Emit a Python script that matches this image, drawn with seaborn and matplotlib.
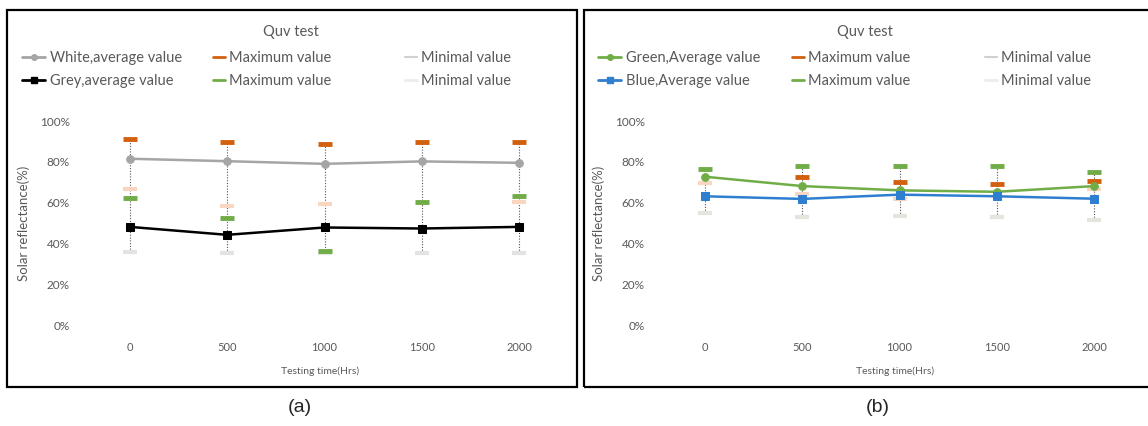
import numpy as np
import pandas as pd
import seaborn as sns
import matplotlib.pyplot as plt
from matplotlib.lines import Line2D
from matplotlib.patches import Rectangle

# data
hours = [0, 500, 1000, 1500, 2000]

# (a) white / grey
white_avg = [81.5, 80.3, 79.0, 80.2, 79.5]
grey_avg = [48.1, 44.2, 47.8, 47.3, 48.1]
white_max = [91.2, 89.6, 88.5, 89.6, 89.6]
grey_max = [62.2, 52.6, 36.4, 60.3, 63.2]
white_min = [66.8, 58.3, 59.2, np.nan, 60.3]
grey_min = [35.9, 35.5, 35.5, 35.5, 35.5]

# (b) green / blue
green_avg = [72.7, 68.1, 66.0, 65.3, 68.1]
blue_avg = [63.1, 61.8, 63.9, 63.1, 61.9]
orange_max_b = [np.nan, 72.5, 69.9, 68.9, 70.6]
green_max_b = [76.4, 78.0, 77.9, 78.0, 74.9]
salmon_min_b = [69.8, 64.3, 61.6, np.nan, 66.5]
gray_min_b = [55.1, 53.1, 53.4, 53.1, 51.5]

ORANGE = '#d2600f'
GREEN = '#70ad47'
SALMON = '#f8d6c0'
LGRAY = '#e3e3e3'
TXT = '#595959'

sns.set_style('white')
plt.rcParams['font.family'] = ['Lato', 'DejaVu Sans']

fig = plt.figure(figsize=(11.48, 4.26), dpi=100)
W, H = 1148, 426


def fx(px):
    return px / W


def fy(py):
    return 1 - py / H


def dash(ax, y, color, mew=3.5):
    df = pd.DataFrame({'h': hours, 'v': y}).dropna()
    sns.lineplot(data=df, x='h', y='v', ax=ax, color=color, linestyle='',
                 marker='_', markersize=10, markeredgewidth=mew,
                 markeredgecolor=color, zorder=4)


def panel(left, avg1, avg2, c1, c2, m1, m2, mx1, mx2, mn1, mn2, mn1c, mn2c):
    ax = fig.add_axes([fx(left), fy(325), fx(487), (325 - 121) / H])
    allv = np.array([mx1, mx2, mn1, mn2], dtype=float)
    ax.vlines(hours, np.nanmin(allv, axis=0), np.nanmax(allv, axis=0),
              colors='#555555', linestyles=(0, (1, 1.5)), linewidth=0.8,
              zorder=1)
    dash(ax, mn1, mn1c, 3)
    dash(ax, mn2, mn2c, 3)
    dash(ax, mx1, ORANGE)
    dash(ax, mx2, GREEN)
    sns.lineplot(x=hours, y=avg1, ax=ax, color=c1, marker=m1, markersize=5.5,
                 markeredgecolor=c1, linewidth=1.8, zorder=5)
    sns.lineplot(x=hours, y=avg2, ax=ax, color=c2, marker=m2, markersize=6,
                 markeredgecolor=c2, linewidth=1.8, zorder=5)
    ax.set_xlim(-250, 2250)
    ax.set_ylim(0, 100)
    ax.set_xticks(hours)
    ax.set_xticklabels([str(h) for h in hours])
    ax.set_yticks([0, 20, 40, 60, 80, 100])
    ax.set_yticklabels(['0%', '20%', '40%', '60%', '80%', '100%'])
    ax.tick_params(axis='both', length=0, colors=TXT, labelsize=8.5)
    ax.tick_params(axis='x', pad=12, labelsize=8)
    ax.tick_params(axis='y', pad=8)
    for s in ax.spines.values():
        s.set_visible(False)
    ax.set_xlabel('Testing time(Hrs)', fontsize=7.5, color=TXT)
    ax.set_ylabel('Solar reflectance(%)', fontsize=9.5, color=TXT)
    ax.xaxis.set_label_coords(0.49, -0.205)
    ax.yaxis.set_label_coords(-0.105, 0.5)
    ax.patch.set_alpha(0)
    return ax


panel(81, white_avg, grey_avg, '#a5a5a5', '#000000', 'o', 's',
      white_max, grey_max, white_min, grey_min, SALMON, LGRAY)
panel(656, green_avg, blue_avg, GREEN, '#2f7fd0', 'o', 's',
      orange_max_b, green_max_b, salmon_min_b, gray_min_b, SALMON, '#e2e6dc')


def legends(x0, x1, x2, title_x, names, avg_cols, markers):
    common = dict(loc='upper left', frameon=False, fontsize=10.5, borderpad=0,
                  handletextpad=0.3, labelspacing=0.62, borderaxespad=0,
                  labelcolor=TXT)
    h_avg = [Line2D([], [], color=c, marker=m, markersize=4, linewidth=2)
             for c, m in zip(avg_cols, markers)]
    fig.legend(h_avg, names, bbox_to_anchor=(fx(x0), fy(51)),
               handlelength=1.6, **common)
    h_max = [Line2D([], [], color=ORANGE, linewidth=2),
             Line2D([], [], color=GREEN, linewidth=2)]
    fig.legend(h_max, ['Maximum value', 'Maximum value'],
               bbox_to_anchor=(fx(x1), fy(51)), handlelength=0.8, **common)
    h_min = [Line2D([], [], color='#d0d0d0', linewidth=1.5),
             Line2D([], [], color='#ececec', linewidth=2)]
    fig.legend(h_min, ['Minimal value', 'Minimal value'],
               bbox_to_anchor=(fx(x2), fy(51)), handlelength=0.8, **common)
    fig.text(fx(title_x), fy(32), 'Quv test', ha='center', va='center',
             fontsize=10.5, color=TXT)


legends(22, 213, 405, 291, ['White,average value', 'Grey,average value'],
        ['#a5a5a5', '#000000'], ['o', 's'])
legends(598, 792, 985, 865, ['Green,Average value', 'Blue,Average value'],
        [GREEN, '#2f7fd0'], ['o', 's'])

# panel frames and captions
fig.add_artist(Rectangle((fx(7), fy(387)), fx(570), 377 / H,
                         transform=fig.transFigure, fill=False,
                         edgecolor='black', linewidth=1.6))
fig.add_artist(Rectangle((fx(584), fy(387)), fx(575), 377 / H,
                         transform=fig.transFigure, fill=False,
                         edgecolor='black', linewidth=1.6))
fig.text(fx(300), fy(408), '(a)', ha='center', va='center', fontsize=14,
         family='Liberation Sans')
fig.text(fx(878), fy(408), '(b)', ha='center', va='center', fontsize=14,
         family='Liberation Sans')

fig.savefig('out.png', dpi=100)
